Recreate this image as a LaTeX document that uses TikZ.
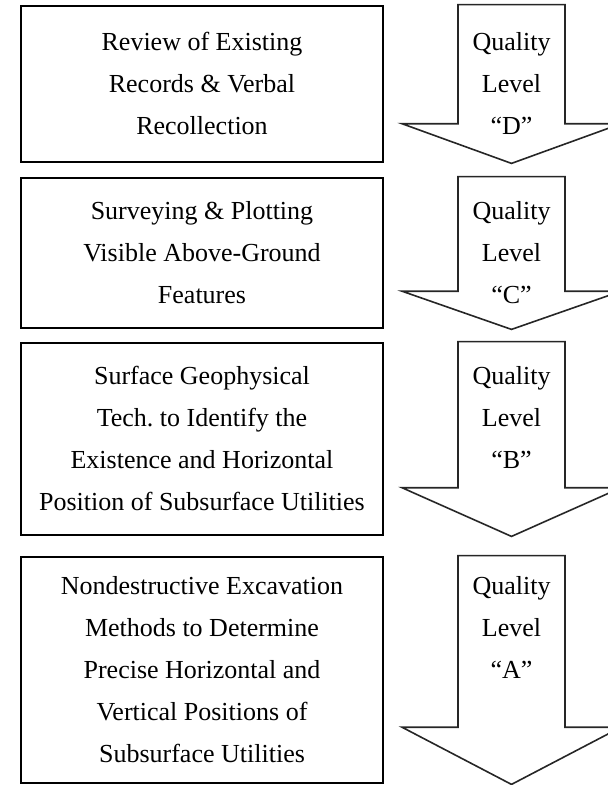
\documentclass[tikz,border=0pt]{standalone}
\usepackage{fontspec}
\setmainfont{Liberation Serif}
\usetikzlibrary{calc}
\newcommand{\qtopstrut}{\rule{0pt}{29pt}}
\newcommand{\qbotstrut}{\rule[-13pt]{0pt}{13pt}}
\tikzset{
    qtext/.style={
        inner sep=0pt,
        align=center,
        font=\fontsize{26}{42}\selectfont\frenchspacing,
        execute at end node=\qbotstrut,
    },
    qbox/.style={
        qtext,
        draw=black,
        line width=2.8pt,
        minimum width=362pt,
    },
    qlabel/.style={
        qtext,
    },
    qarrow/.style={
        draw=black!85,
        line width=1.6pt,
    },
}

\begin{document}
\begin{tikzpicture}[x=1pt, y=-1pt]
    \useasboundingbox (0,0) rectangle (608,785);
    \clip (0,0) rectangle (608,785);

    \node[qbox, minimum height=156pt] (rev) at (202,84)
        {\qtopstrut Review of Existing\\Records \& Verbal\\Recollection};
    \node[qbox, minimum height=150pt] (srv) at (202,253)
        {\qtopstrut Surveying \& Plotting\\Visible Above-Ground\\Features};
    \node[qbox, minimum height=192pt] (geo) at (202,439)
        {\qtopstrut Surface Geophysical\\Tech. to Identify the\\Existence and Horizontal\\Position of Subsurface Utilities};
    \node[qbox, minimum height=226pt] (nde) at (202,670)
        {\qtopstrut Nondestructive Excavation\\Methods to Determine\\Precise Horizontal and\\Vertical Positions of\\Subsurface Utilities};

    \foreach \b/\lvl/\rows in {rev/D/3, srv/C/3, geo/B/4, nde/A/5} {
        \draw[qarrow] let \p1=(\b.north), \p2=(\b.south), \n1={\y2+0.25*(\y1-\y2)} in
            (458pt,\y1) -- (565pt,\y1) -- (565pt,\n1) -- (621pt,\n1)
            -- (511.5pt,\y2) -- (402pt,\n1) -- (458pt,\n1) -- cycle;
        \path let \p1=(\b.center) in
            node[qlabel, anchor=north] (ql\lvl) at (511.5pt,\y1+\rows*21pt)
            {\qtopstrut Quality\\Level\\“\lvl”};
    }
\end{tikzpicture}
\end{document}
